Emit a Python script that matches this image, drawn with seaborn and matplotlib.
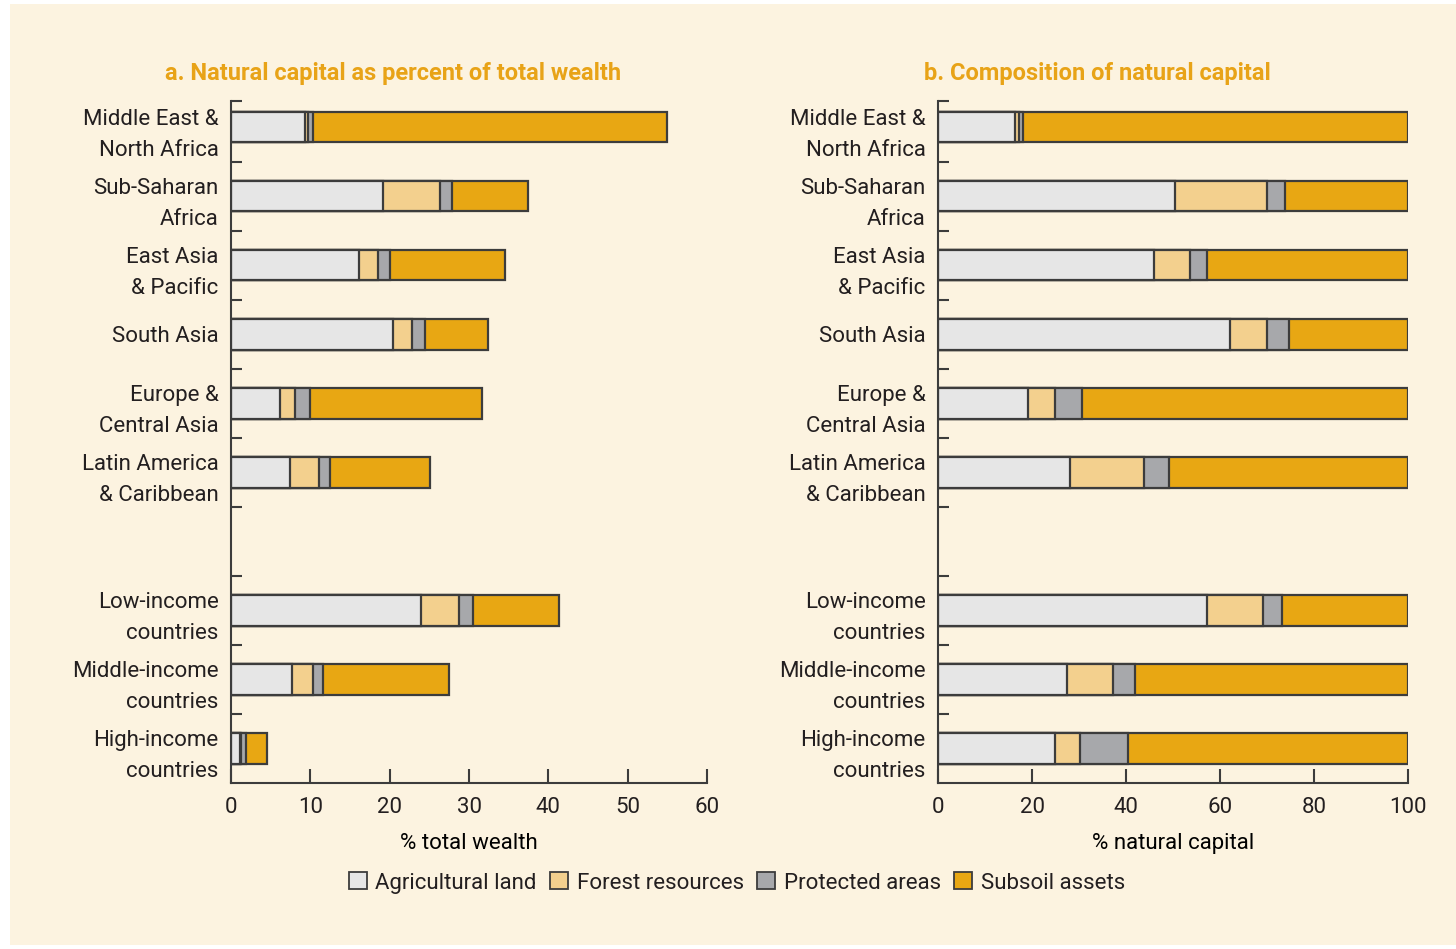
import numpy as np
import pandas as pd
import matplotlib.pyplot as plt
import seaborn as sns
from matplotlib.patches import Rectangle

# Regions (blank slot separates regional and income groups)
regions = ["Middle East &\nNorth Africa", "Sub-Saharan\nAfrica", "East Asia\n& Pacific", "South Asia",
           "Europe &\nCentral Asia", "Latin America\n& Caribbean", " ",
           "Low-income\ncountries", "Middle-income\ncountries", "High-income\ncountries"]
groups = [r for r in regions if r.strip()]

components = ["Agricultural land", "Forest resources", "Protected areas", "Subsoil assets"]
colors = ["#E6E6E6", "#F3D08E", "#A7A8AB", "#E8A713"]

# a. % of total wealth
agri_a = [9.3, 19.1, 16.1, 20.4, 6.2, 7.4, 24.0, 7.7, 1.1]
forest_a = [0.4, 7.3, 2.4, 2.4, 1.9, 3.7, 4.8, 2.6, 0.2]
protected_a = [0.6, 1.5, 1.6, 1.7, 1.9, 1.4, 1.7, 1.3, 0.6]
subsoil_a = [44.7, 9.5, 14.4, 7.9, 21.6, 12.6, 10.9, 15.9, 2.6]

# b. % of natural capital
agri_b = [16.4, 50.5, 46.0, 62.2, 19.2, 28.0, 57.3, 27.4, 24.9]
forest_b = [0.8, 19.4, 7.6, 7.7, 5.7, 15.8, 11.8, 9.8, 5.3]
protected_b = [0.8, 3.9, 3.7, 4.8, 5.7, 5.4, 4.1, 4.7, 10.2]
subsoil_b = [82.0, 26.2, 42.7, 25.3, 69.4, 50.8, 26.8, 58.1, 59.6]

bg = "#FCF3E0"
edge = "#3C3C3C"
orange = "#E8A317"
fs = 16

plt.rcParams["font.family"] = ["Roboto", "DejaVu Sans"]
plt.rcParams["text.color"] = "#231F20"
plt.rcParams["xtick.color"] = "#231F20"
plt.rcParams["ytick.color"] = "#231F20"

fig = plt.figure(figsize=(14.56, 9.49), dpi=100, facecolor="white")
fig.patches.append(Rectangle((10 / 1456, 4 / 949), 1446 / 1456, 941 / 949, transform=fig.transFigure,
                             facecolor=bg, edgecolor="none", zorder=-10))

ax1 = fig.add_axes([231 / 1456, 1 - 783 / 949, 476 / 1456, 682 / 949])
ax2 = fig.add_axes([938 / 1456, 1 - 783 / 949, 470 / 1456, 682 / 949])


def draw(ax, parts, xmax, xticks, xlabel, title):
    df = pd.DataFrame(dict(zip(components, parts)), index=groups)
    cum = df.cumsum(axis=1)
    # draw from the longest cumulative bar down so each segment shows
    for comp, col in reversed(list(zip(components, colors))):
        d = pd.DataFrame({"region": groups, "value": cum[comp].values})
        sns.barplot(data=d, x="value", y="region", order=regions, orient="h",
                    color=col, saturation=1, width=0.44, edgecolor=edge, linewidth=1.6,
                    ax=ax, errorbar=None)
    ax.set_facecolor("none")
    ax.set_xlim(0, xmax)
    ax.set_ylim(9.5, -0.38)
    ax.set_xticks(xticks)
    ax.set_yticks(range(len(regions)))
    ax.set_yticklabels(regions, linespacing=1.62, ha="right")
    ax.set_yticks(np.arange(-0.5, 9.5, 1)[1:].tolist() + [-0.38], minor=True)
    ax.tick_params(axis="y", which="major", length=0, pad=9, labelsize=fs)
    ax.tick_params(axis="y", which="minor", direction="in", length=8, width=1.5, color=edge)
    ax.tick_params(axis="x", direction="in", length=10, width=1.5, color=edge, pad=10, labelsize=fs)
    for s in ["top", "right"]:
        ax.spines[s].set_visible(False)
    for s in ["left", "bottom"]:
        ax.spines[s].set_color(edge)
        ax.spines[s].set_linewidth(1.5)
    ax.set_xlabel(xlabel, fontsize=fs, labelpad=11)
    ax.set_ylabel("")
    ax.set_title(title, color=orange, fontweight="bold", fontsize=17, pad=15)
    ax.title.set_position((0.34, 1.0))


draw(ax1, [agri_a, forest_a, protected_a, subsoil_a], 60, range(0, 61, 10),
     "% total wealth", "a. Natural capital as percent of total wealth")
draw(ax2, [agri_b, forest_b, protected_b, subsoil_b], 100, range(0, 101, 20),
     "% natural capital", "b. Composition of natural capital")

handles = [Rectangle((0, 0), 1, 1, facecolor=c, edgecolor=edge, linewidth=1.3) for c in colors]
fig.legend(handles, components, loc="center", bbox_to_anchor=(737 / 1456, 1 - 883 / 949), ncol=4,
           frameon=False, fontsize=fs, handlelength=0.8, handleheight=0.8, handletextpad=0.4,
           columnspacing=0.6)

plt.savefig("out.png", dpi=100, facecolor="white")
